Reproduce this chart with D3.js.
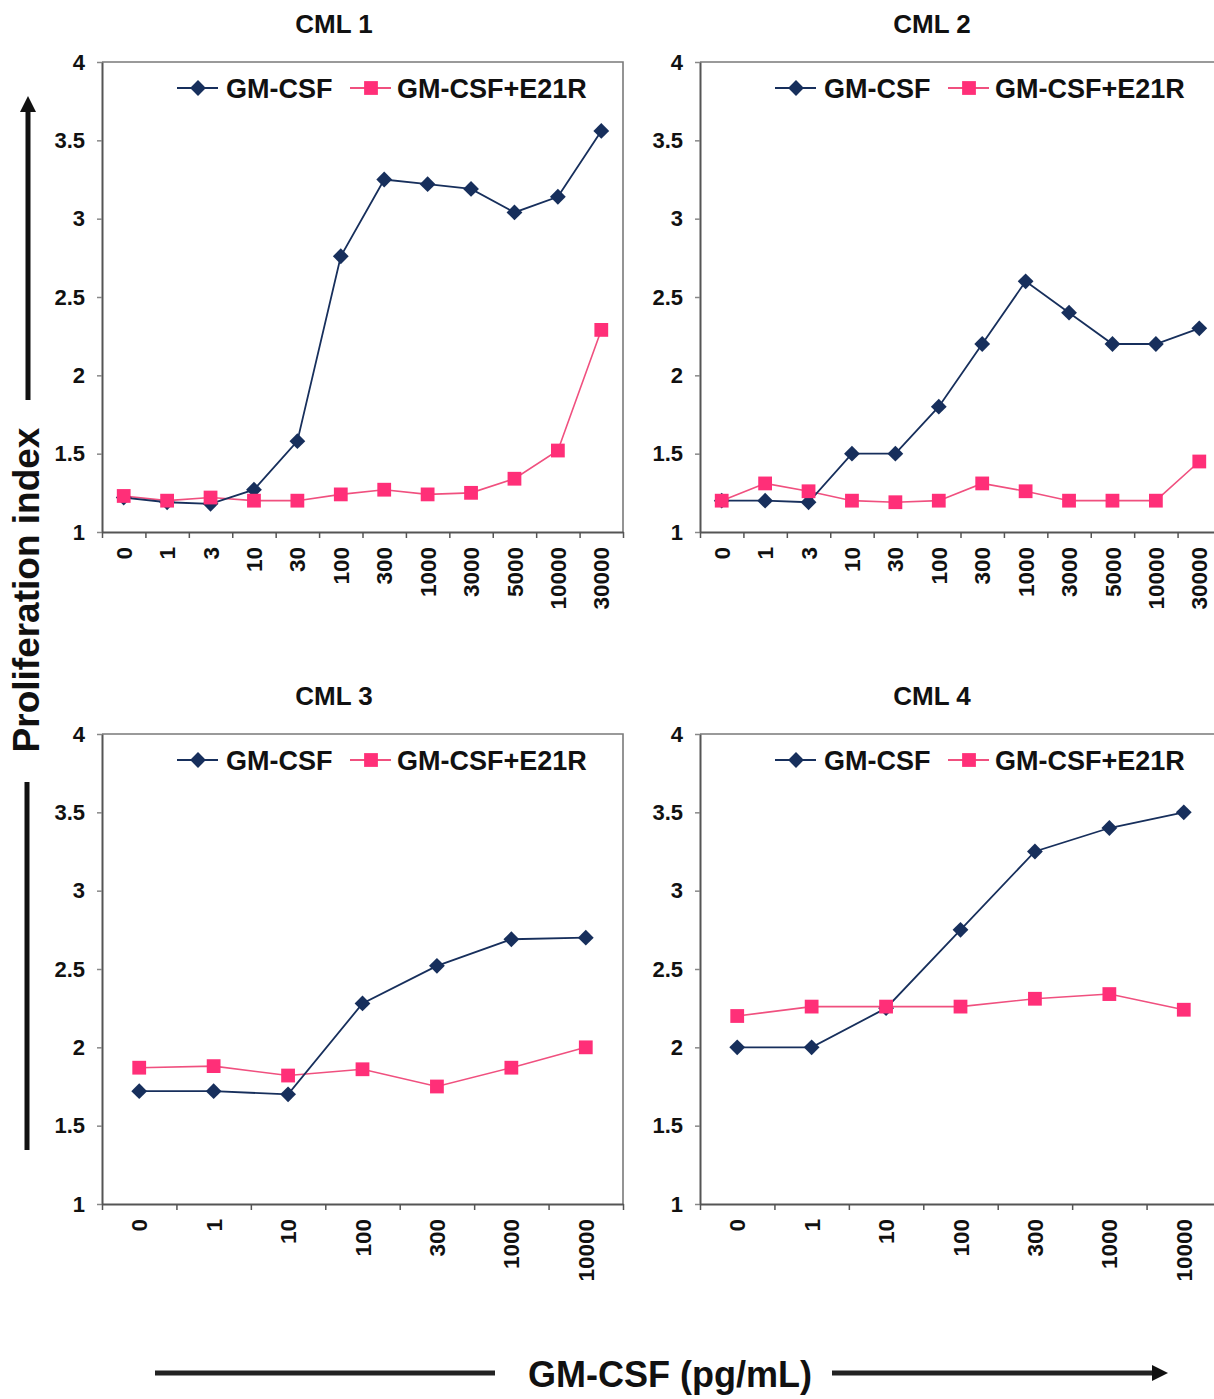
<!DOCTYPE html>
<html>
<head>
<meta charset="utf-8">
<script src="https://cdn.jsdelivr.net/npm/d3@7"></script>
<style>
  html, body { margin: 0; padding: 0; background: #fff; }
  svg { display: block; font-family: "Liberation Sans", Arial, sans-serif; font-weight: bold; }
</style>
</head>
<body>
<svg id="chart" width="1214" height="1399"></svg>
<script>
// GM-CSF doses (pg/mL) for the upper and lower panels
const dosesTop = ["0","1","3","10","30","100","300","1000","3000","5000","10000","30000"];
const dosesBottom = ["0","1","10","100","300","1000","10000"];

// Proliferation index per patient sample
const cml1GM   = [1.22,1.19,1.18,1.27,1.58,2.76,3.25,3.22,3.19,3.04,3.14,3.56];
const cml1E21R = [1.23,1.20,1.22,1.20,1.20,1.24,1.27,1.24,1.25,1.34,1.52,2.29];
const cml2GM   = [1.20,1.20,1.19,1.50,1.50,1.80,2.20,2.60,2.40,2.20,2.20,2.30];
const cml2E21R = [1.20,1.31,1.26,1.20,1.19,1.20,1.31,1.26,1.20,1.20,1.20,1.45];
const cml3GM   = [1.72,1.72,1.70,2.28,2.52,2.69,2.70];
const cml3E21R = [1.87,1.88,1.82,1.86,1.75,1.87,2.00];
const cml4GM   = [2.00,2.00,2.25,2.75,3.25,3.40,3.50];
const cml4E21R = [2.20,2.26,2.26,2.26,2.31,2.34,2.24];

const yTicks = [1, 1.5, 2, 2.5, 3, 3.5, 4];
const seriesNames = ["GM-CSF", "GM-CSF+E21R"];
const panelTitles = ["CML 1", "CML 2", "CML 3", "CML 4"];

const NAVY = "#172f5c";
const PINK = "#ff2f78";
const PINK_LINE = "#f0507f";
const FONT = "'Liberation Sans', Arial, sans-serif";

const svg = d3.select("#chart");

const plotW = 521, plotH = 470;
const panels = [
  { title: panelTitles[0], left: 102, top: 62,  doses: dosesTop,    gm: cml1GM, e21r: cml1E21R },
  { title: panelTitles[1], left: 700, top: 62,  doses: dosesTop,    gm: cml2GM, e21r: cml2E21R },
  { title: panelTitles[2], left: 102, top: 734, doses: dosesBottom, gm: cml3GM, e21r: cml3E21R },
  { title: panelTitles[3], left: 700, top: 734, doses: dosesBottom, gm: cml4GM, e21r: cml4E21R }
];

// diamond = square turned 45 degrees, equal width and height
const diamond = d3.symbol().type(d3.symbolSquare).size(125);
const square = d3.symbol().type(d3.symbolSquare).size(190);

panels.forEach(p => {
  const g = svg.append("g");
  const x = d3.scaleBand().domain(p.doses).range([p.left, p.left + plotW]);
  const xEdge = d3.scaleLinear().domain([0, p.doses.length]).range([p.left, p.left + plotW]);
  const y = d3.scaleLinear().domain([1, 4]).range([p.top + plotH, p.top]);
  const cx = d => x(d) + x.bandwidth() / 2;

  // panel title
  g.append("text")
    .attr("x", p.left + 232).attr("y", p.top - 29)
    .attr("text-anchor", "middle")
    .attr("font-size", 26).attr("fill", "#111")
    .text(p.title);

  // top and right frame
  g.append("path")
    .attr("d", `M${p.left},${p.top}H${p.left + plotW}V${p.top + plotH}`)
    .attr("fill", "none").attr("stroke", "#7a7a7a").attr("stroke-width", 1.6);

  // y axis
  const yAxis = g.append("g")
    .attr("transform", `translate(${p.left},0)`)
    .call(d3.axisLeft(y).tickValues(yTicks).tickFormat(d3.format("")).tickSize(5).tickPadding(12).tickSizeOuter(0));
  yAxis.select(".domain").attr("stroke", "#555").attr("stroke-width", 2);
  yAxis.selectAll(".tick line").attr("stroke", "#888").attr("stroke-width", 1.5);
  yAxis.selectAll(".tick text").attr("font-size", 22).attr("fill", "#111")
    .attr("font-family", FONT).attr("font-weight", "bold");

  // x axis: tick marks at category boundaries
  const xAxis = g.append("g")
    .attr("transform", `translate(0,${p.top + plotH})`)
    .call(d3.axisBottom(xEdge).tickValues(d3.range(p.doses.length + 1)).tickFormat("").tickSize(6).tickSizeOuter(0));
  xAxis.select(".domain").attr("stroke", "#555").attr("stroke-width", 2);
  xAxis.selectAll(".tick line").attr("stroke", "#555").attr("stroke-width", 1.5);

  // x labels, rotated, centred on each category
  const xLab = g.append("g")
    .attr("transform", `translate(0,${p.top + plotH})`)
    .call(d3.axisBottom(x).tickSize(0).tickPadding(0));
  xLab.select(".domain").remove();
  xLab.selectAll(".tick text")
    .attr("font-size", 22.5).attr("fill", "#111")
    .attr("font-family", FONT).attr("font-weight", "bold")
    .attr("transform", "translate(0,15) rotate(-90)")
    .attr("text-anchor", "end")
    .attr("dy", "0.36em")
    .attr("x", 0).attr("y", 0);

  const line = d3.line().x((d, i) => cx(p.doses[i])).y(d => y(d));

  // GM-CSF + E21R series
  g.append("path").datum(p.e21r).attr("d", line)
    .attr("fill", "none").attr("stroke", PINK_LINE).attr("stroke-width", 1.6);
  // GM-CSF series
  g.append("path").datum(p.gm).attr("d", line)
    .attr("fill", "none").attr("stroke", NAVY).attr("stroke-width", 1.8);

  g.selectAll(".mk-gm").data(p.gm).join("path")
    .attr("transform", (d, i) => `translate(${cx(p.doses[i])},${y(d)}) rotate(45)`)
    .attr("d", diamond).attr("fill", NAVY);
  g.selectAll(".mk-e").data(p.e21r).join("path")
    .attr("transform", (d, i) => `translate(${cx(p.doses[i])},${y(d)})`)
    .attr("d", square).attr("fill", PINK);

  // legend
  const ly = p.top + 26;
  const lg = g.append("g");
  const items = [
    { name: seriesNames[0], x0: p.left + 75, color: NAVY, lineColor: NAVY, sym: diamond, rot: 45, textX: p.left + 124 },
    { name: seriesNames[1], x0: p.left + 248, color: PINK, lineColor: PINK_LINE, sym: square, rot: 0, textX: p.left + 295 }
  ];
  items.forEach(it => {
    lg.append("line").attr("x1", it.x0).attr("x2", it.x0 + 41).attr("y1", ly).attr("y2", ly)
      .attr("stroke", it.lineColor).attr("stroke-width", 2);
    lg.append("path").attr("transform", `translate(${it.x0 + 21},${ly}) rotate(${it.rot})`)
      .attr("d", it.sym).attr("fill", it.color);
    lg.append("text").attr("x", it.textX).attr("y", ly).attr("dy", "0.36em")
      .attr("font-size", 27).attr("fill", "#111").text(it.name);
  });
});

// shared y title with arrow
svg.append("defs").append("marker")
  .attr("id", "arrowhead").attr("viewBox", "0 0 10 10").attr("refX", 5).attr("refY", 5)
  .attr("markerWidth", 3.2).attr("markerHeight", 3.2).attr("orient", "auto")
  .append("path").attr("d", "M0,0L10,5L0,10Z").attr("fill", "#111");

svg.append("line").attr("x1", 28).attr("x2", 28).attr("y1", 400).attr("y2", 104)
  .attr("stroke", "#111").attr("stroke-width", 5).attr("marker-end", "url(#arrowhead)");
svg.append("line").attr("x1", 27).attr("x2", 27).attr("y1", 782).attr("y2", 1150)
  .attr("stroke", "#111").attr("stroke-width", 5);
svg.append("text")
  .attr("transform", "translate(39,590) rotate(-90)")
  .attr("text-anchor", "middle").attr("font-size", 37).attr("fill", "#111")
  .text("Proliferation index");

// shared x title with arrow
svg.append("line").attr("x1", 155).attr("x2", 495).attr("y1", 1373).attr("y2", 1373)
  .attr("stroke", "#222").attr("stroke-width", 5);
svg.append("line").attr("x1", 832).attr("x2", 1160).attr("y1", 1373).attr("y2", 1373)
  .attr("stroke", "#222").attr("stroke-width", 5).attr("marker-end", "url(#arrowhead)");
svg.append("text")
  .attr("x", 670).attr("y", 1387)
  .attr("text-anchor", "middle").attr("font-size", 36).attr("fill", "#111")
  .text("GM-CSF (pg/mL)");
</script>
</body>
</html>
